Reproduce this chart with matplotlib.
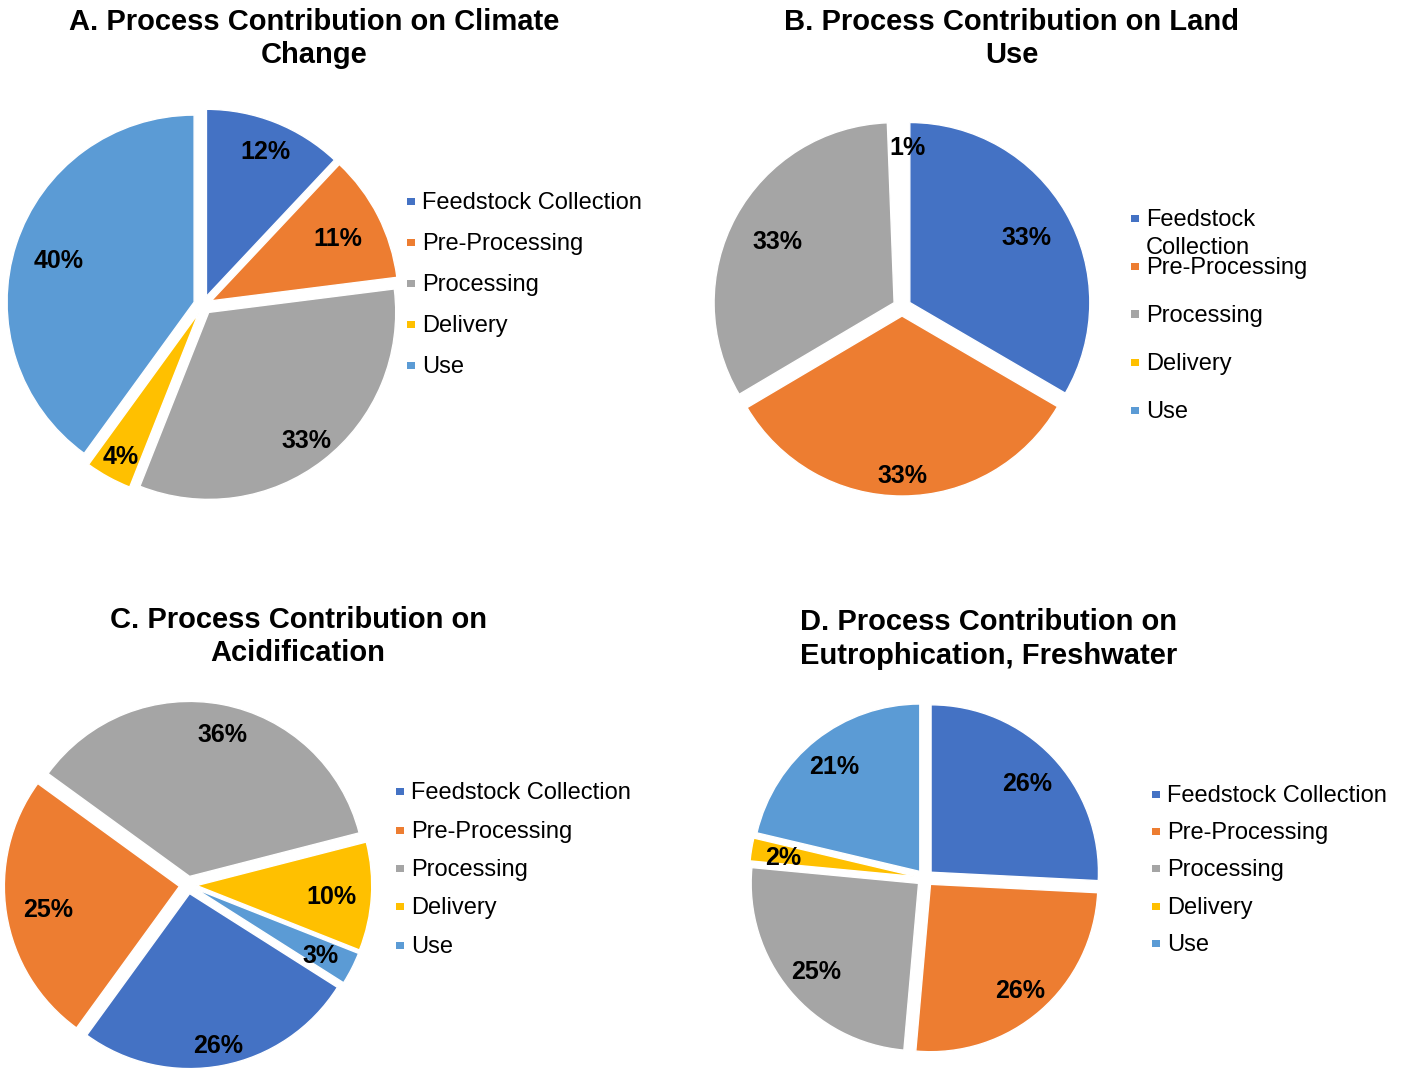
import numpy as np
import matplotlib
matplotlib.use("Agg")
import matplotlib.pyplot as plt
from matplotlib.patches import Rectangle

plt.rcParams['font.family'] = ['Liberation Sans', 'DejaVu Sans']

categories = ["Feedstock Collection", "Pre-Processing", "Processing", "Delivery", "Use"]
colors = ["#4472C4", "#ED7D31", "#A5A5A5", "#FFC000", "#5B9BD5"]

# shares (%)
climate_change = [12, 11, 33, 4, 40]
land_use = [33.4, 33.1, 32.9, 0.6, 0]
acidification = [26, 25, 36, 10, 3]
eutrophication = [25.8, 25.6, 25.1, 2.2, 21.3]

W, H = 1405, 1072
fig = plt.figure(figsize=(W / 100, H / 100), dpi=100)
fig.patch.set_facecolor("white")


def fx(x):
    return x / W


def fy(y):
    return 1 - y / H


def draw_pie(values, cx, cy, R, first_angle, label_dist, hidden=(), nudge=None):
    nudge = nudge or {}
    ax = fig.add_axes([fx(cx - 1.3 * R), fy(cy + 1.3 * R), 2.6 * R / W, 2.6 * R / H])
    wedges, _ = ax.pie(values, explode=[0.05] * len(values), startangle=90 - first_angle,
                       counterclock=False, colors=colors, radius=1,
                       wedgeprops=dict(edgecolor="white", linewidth=1.0))
    ax.set_xlim(-1.3, 1.3)
    ax.set_ylim(-1.3, 1.3)
    ax.axis("off")
    for i in hidden:
        wedges[i].set_alpha(0)
    total = float(sum(values))
    start = first_angle
    for i, v in enumerate(values):
        span = 360.0 * v / total
        mid = np.deg2rad(start + span / 2)
        start += span
        if v <= 0:
            continue
        d = label_dist[i]
        ndx, ndy = nudge.get(i, (0, 0))
        x = d * np.sin(mid) + ndx / R
        y = d * np.cos(mid) - (3 + ndy) / R
        ax.text(x, y, f"{100 * v / total:.0f}%", ha="center", va="center",
                fontsize=18, fontweight="bold", color="black")
    return ax


def draw_title(lines, xc, ys):
    for line, y in zip(lines, ys):
        fig.text(fx(xc), fy(y + 2), line, ha="center", va="center", fontsize=21,
                 fontweight="bold", color="black")


def draw_legend(labels, x_text, ys, sq_ys=None):
    if sq_ys is None:
        sq_ys = ys
    for lab, y, sy, c in zip(labels, ys, sq_ys, colors):
        fig.add_artist(Rectangle((fx(x_text - 15), fy(sy + 4)), 7.5 / W, 7.5 / H,
                                 transform=fig.transFigure, facecolor=c, edgecolor="none"))
        fig.text(fx(x_text), fy(y + 2), lab, ha="left", va="center", fontsize=17,
                 color="black", linespacing=1.3)


# A
draw_title(["A. Process Contribution on Climate", "Change"], 314.5, [20, 53])
draw_pie(climate_change, 203, 305, 187, 0, [0.9, 0.81, 0.9, 0.91, 0.81])
draw_legend(categories, 422, [201, 242, 283, 324, 365])

# B
draw_title(["B. Process Contribution on Land", "Use"], 1011.5, [20, 53])
draw_pie(land_use, 902, 307, 180, 0, [0.8, 0.92, 0.79, 0.9, 0.9], hidden=(3,),
         nudge={3: (9, 0)})
labels_b = ["Feedstock\nCollection"] + categories[1:]
draw_legend(labels_b, 1146, [232, 266, 314, 362, 410], [218, 266, 314, 362, 410])

# C
draw_title(["C. Process Contribution on", "Acidification"], 298, [618, 651])
draw_pie(acidification, 188, 885, 175, 122.4, [0.92, 0.81, 0.89, 0.82, 0.85],
         nudge={2: (5, 0)})
draw_legend(categories, 411, [791, 830, 868, 906, 945])

# D
draw_title(["D. Process Contribution on", "Eutrophication, Freshwater"], 989, [620, 654])
draw_pie(eutrophication, 925, 878, 167.4, 0, [0.84, 0.87, 0.85, 0.86, 0.87])
draw_legend(categories, 1167, [794, 831, 868, 906, 943])

fig.savefig("out.png", dpi=100, facecolor="white")
